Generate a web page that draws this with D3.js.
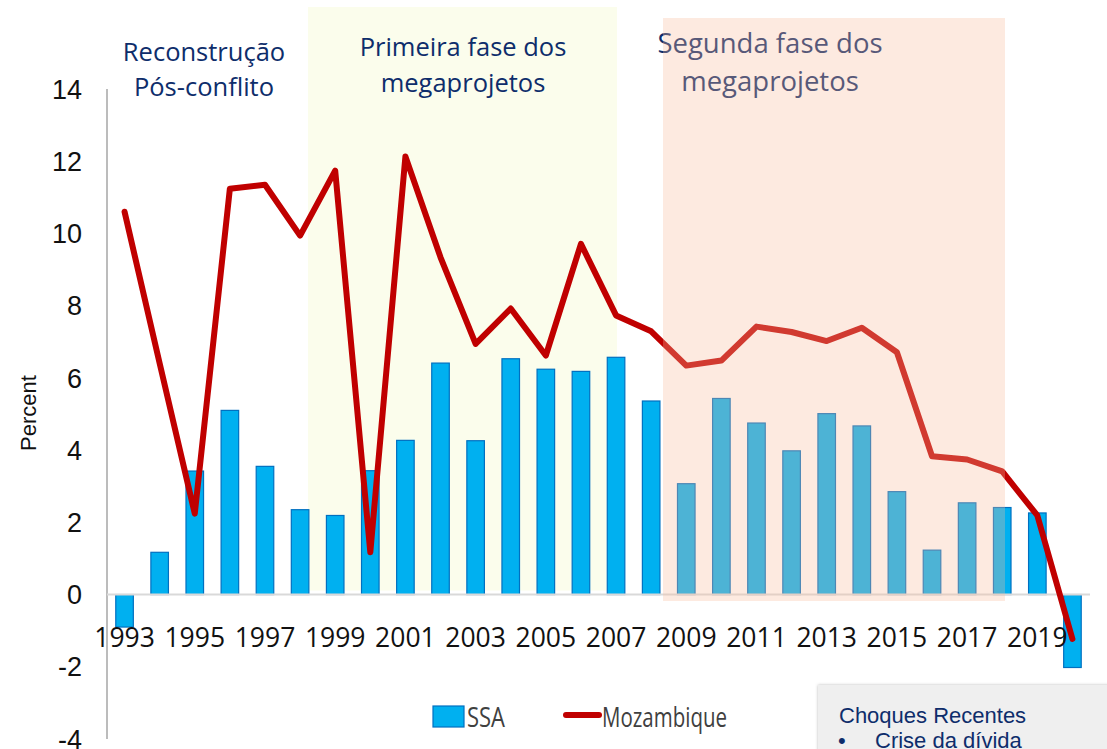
<!DOCTYPE html>
<html>
<head>
<meta charset="utf-8">
<script src="https://cdn.jsdelivr.net/npm/d3@7"></script>
<style>
  body { margin: 0; background: #fff; }
  svg { display: block; }
</style>
</head>
<body>
<svg id="chart" width="1107" height="749"></svg>
<script>
// values
const years = [1993, 1994, 1995, 1996, 1997, 1998, 1999, 2000, 2001, 2002, 2003, 2004, 2005, 2006,
               2007, 2008, 2009, 2010, 2011, 2012, 2013, 2014, 2015, 2016, 2017, 2018, 2019, 2020];
const ssa = [-0.9, 1.17, 3.42, 5.1, 3.55, 2.35, 2.19, 3.43, 4.27, 6.41, 4.26, 6.53, 6.24, 6.18,
             6.57, 5.36, 3.07, 5.43, 4.75, 3.98, 5.01, 4.67, 2.85, 1.23, 2.54, 2.41, 2.26, -2.02];
const mozambique = [10.6, 6.4, 2.24, 11.24, 11.35, 9.94, 11.74, 1.17, 12.13, 9.34, 6.94, 7.92, 6.62, 9.71,
                    7.73, 7.29, 6.34, 6.48, 7.42, 7.27, 7.02, 7.39, 6.71, 3.83, 3.74, 3.41, 2.19, -1.23];
const yTicks = [-4, -2, 0, 2, 4, 6, 8, 10, 12, 14];
const yearLabels = years.filter(y => y % 2 === 1);
const phaseTitles = [
  ["Reconstrução", "Pós-conflito"],
  ["Primeira fase dos", "megaprojetos"],
  ["Segunda fase dos", "megaprojetos"]
];

const svg = d3.select("#chart");
const m = { left: 107, right: 1090, top: 89, bottom: 739 };

const x = d3.scaleBand()
    .domain(years)
    .range([m.left, m.right])
    .paddingInner(0.5)
    .paddingOuter(0.25);

const y = d3.scaleLinear()
    .domain([-4, 14])
    .range([m.bottom, m.top]);

const navy = "#0e2d6b";
const cx = d => x(d) + x.bandwidth() / 2;

// first phase background (behind data)
svg.append("rect")
    .attr("x", 308).attr("y", 7)
    .attr("width", 617 - 308).attr("height", y(0) - 4 - 7)
    .attr("fill", "#fbfdec");

// y axis line
svg.append("line")
    .attr("x1", m.left).attr("x2", m.left)
    .attr("y1", m.top).attr("y2", m.bottom)
    .attr("stroke", "#a6a6a6").attr("stroke-width", 1.5);

// tick labels
svg.append("g").selectAll("text")
    .data(yTicks)
    .join("text")
    .attr("x", 82)
    .attr("y", d => y(d))
    .attr("dy", "0.36em")
    .attr("text-anchor", "end")
    .attr("font-family", "Liberation Sans, Arial, sans-serif")
    .attr("font-size", 27)
    .attr("fill", "#111")
    .text(d => d);

svg.append("text")
    .attr("transform", "translate(36,413) rotate(-90)")
    .attr("text-anchor", "middle")
    .attr("font-family", "Liberation Sans, Arial, sans-serif")
    .attr("font-size", 22)
    .attr("fill", "#111")
    .text("Percent");

// bars
svg.append("g").selectAll("rect")
    .data(years.map((yr, i) => ({ yr, v: ssa[i] })))
    .join("rect")
    .attr("x", d => x(d.yr))
    .attr("width", x.bandwidth())
    .attr("y", d => y(Math.max(0, d.v)))
    .attr("height", d => Math.abs(y(d.v) - y(0)))
    .attr("fill", "#00b0f0")
    .attr("stroke", "#0070c0")
    .attr("stroke-width", 1.2);

// zero line
svg.append("line")
    .attr("x1", m.left).attr("x2", m.right)
    .attr("y1", y(0)).attr("y2", y(0))
    .attr("stroke", "#d9d9d9").attr("stroke-width", 2);

// Mozambique line
const line = d3.line()
    .x((d, i) => cx(years[i]))
    .y(d => y(d));

svg.append("path")
    .datum(mozambique)
    .attr("d", line)
    .attr("fill", "none")
    .attr("stroke", "#c00000")
    .attr("stroke-width", 6)
    .attr("stroke-linejoin", "round")
    .attr("stroke-linecap", "round");

// year labels
svg.append("g").selectAll("text")
    .data(yearLabels)
    .join("text")
    .attr("x", d => cx(d))
    .attr("y", 647)
    .attr("text-anchor", "middle")
    .attr("font-family", "Open Sans, sans-serif")
    .attr("font-size", 26.5)
    .attr("fill", "#111")
    .text(d => d);

// phase titles
const titlePos = [[204, 61, 96, 25.5], [463, 56, 92, 25.5], [770, 53, 91, 27.5]];
phaseTitles.forEach((lines, i) => {
  const t = svg.append("text")
      .attr("text-anchor", "middle")
      .attr("font-family", "Open Sans, sans-serif")
      .attr("font-size", titlePos[i][3])
      .attr("fill", navy);
  lines.forEach((s, j) => {
    t.append("tspan").attr("x", titlePos[i][0]).attr("y", titlePos[i][1 + j]).text(s);
  });
});

// second phase overlay (drawn over the data)
svg.append("rect")
    .attr("x", 663).attr("y", 18)
    .attr("width", 1005 - 663).attr("height", 601 - 18)
    .attr("fill", "rgb(248,186,156)")
    .attr("fill-opacity", 0.31);

// legend
const legend = svg.append("g");
legend.append("rect")
    .attr("x", 433).attr("y", 706).attr("width", 31).attr("height", 21)
    .attr("fill", "#00b0f0").attr("stroke", "#0070c0").attr("stroke-width", 1.2);
legend.append("text")
    .attr("x", 467).attr("y", 727)
    .attr("font-family", "Open Sans, sans-serif")
    .attr("font-size", 28)
    .attr("textLength", 38).attr("lengthAdjust", "spacingAndGlyphs")
    .attr("fill", "#404040")
    .text("SSA");
legend.append("line")
    .attr("x1", 566).attr("x2", 599).attr("y1", 715).attr("y2", 715)
    .attr("stroke", "#c00000").attr("stroke-width", 6).attr("stroke-linecap", "round");
legend.append("text")
    .attr("x", 602).attr("y", 727)
    .attr("font-family", "Open Sans, sans-serif")
    .attr("font-size", 28)
    .attr("textLength", 125).attr("lengthAdjust", "spacingAndGlyphs")
    .attr("fill", "#404040")
    .text("Mozambique");

// recent shocks box
const defs = svg.append("defs");
const f = defs.append("filter").attr("id", "shadow")
    .attr("x", "-10%").attr("y", "-10%").attr("width", "130%").attr("height", "140%");
f.append("feDropShadow").attr("dx", 0).attr("dy", 0).attr("stdDeviation", 1.5)
    .attr("flood-color", "#888").attr("flood-opacity", 0.6);

svg.append("rect")
    .attr("x", 818).attr("y", 685).attr("width", 300).attr("height", 90)
    .attr("fill", "#efefef")
    .attr("filter", "url(#shadow)");
svg.append("text")
    .attr("x", 839).attr("y", 723)
    .attr("font-family", "Liberation Sans, Arial, sans-serif")
    .attr("font-size", 22)
    .attr("fill", navy)
    .text("Choques Recentes");
svg.append("text")
    .attr("x", 838).attr("y", 748)
    .attr("font-family", "Liberation Sans, Arial, sans-serif")
    .attr("font-size", 22)
    .attr("fill", navy)
    .text("•");
svg.append("text")
    .attr("x", 875).attr("y", 748)
    .attr("font-family", "Liberation Sans, Arial, sans-serif")
    .attr("font-size", 22)
    .attr("fill", navy)
    .text("Crise da dívida");
</script>
</body>
</html>
